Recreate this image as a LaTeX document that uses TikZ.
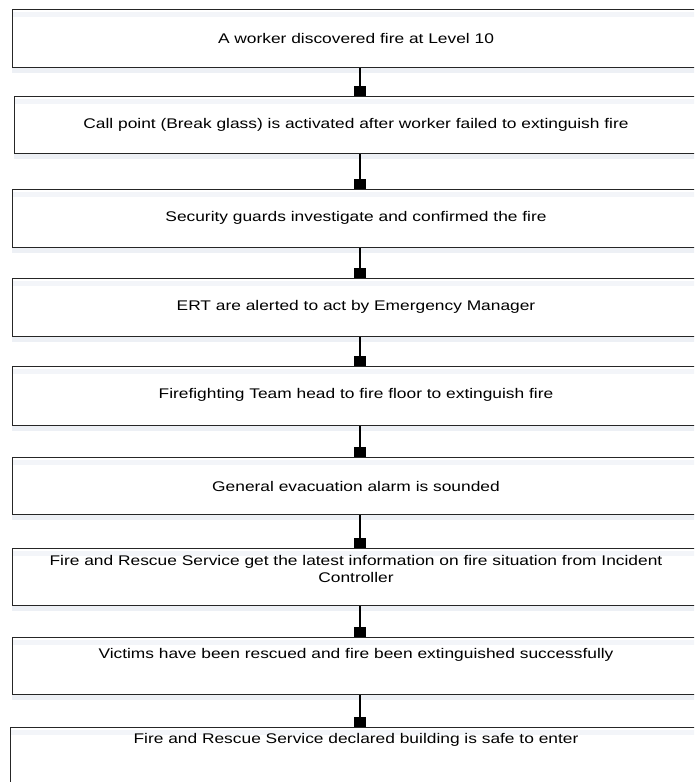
\documentclass[tikz,border=0pt]{standalone}
\usepackage{fontspec}
\setmainfont{Liberation Sans}[FakeStretch=1.24]
\usetikzlibrary{arrows.meta}
\definecolor{shadowc}{HTML}{EDF0F5}
\definecolor{innerc}{HTML}{F3F5F9}
\definecolor{edgec}{HTML}{262626}
\begin{document}
\begin{tikzpicture}[x=1pt,y=-1pt,
  box/.style={draw=edgec, line width=1.2pt, rectangle, minimum width=690pt, inner sep=0pt, anchor=north west},
  txt/.style={inner sep=0pt, align=center, font=\fontsize{14}{16.5}\selectfont},
  conn/.style={draw=black, line width=1.5pt, -{Square[length=10pt,width=12pt]}},
  shd/.style={fill=shadowc, draw=none},
  inr/.style={fill=innerc, draw=none}]
\useasboundingbox (0,0) rectangle (694,782);
\clip (0,0) rectangle (694,782);
\fill[white] (0,0) rectangle (694,782);
% shadows
\foreach \t/\b/\l in {9/67/12, 96/153/14, 189/247/12, 278/336/12, 366/425/12, 457/514/12, 548/605/12, 637/694/12}{
  \path[shd] (\l,\b) rectangle (700,\b+6);
  \path[inr] (\l,\t+3) rectangle (700,\t+8);
}
\path[inr] (10,730) rectangle (700,735);
% boxes
\node[box, minimum height=58pt] (b1) at (12,9) {};
\node[box, minimum height=57pt] (b2) at (14,96) {};
\node[box, minimum height=58pt] (b3) at (12,189) {};
\node[box, minimum height=58pt] (b4) at (12,278) {};
\node[box, minimum height=59pt] (b5) at (12,366) {};
\node[box, minimum height=57pt] (b6) at (12,457) {};
\node[box, minimum height=57pt] (b7) at (12,548) {};
\node[box, minimum height=57pt] (b8) at (12,637) {};
\node[box, minimum height=80pt] (b9) at (10,727) {};
% texts
\node[txt] (t1) at (356,38) {A worker discovered fire at Level 10};
\node[txt] (t2) at (356,125) {Call point (Break glass) is activated after worker failed to extinguish fire};
\node[txt] (t3) at (356,218) {Security guards investigate and confirmed the fire};
\node[txt] (t4) at (356,307) {ERT are alerted to act by Emergency Manager};
\node[txt] (t5) at (356,395) {Firefighting Team head to fire floor to extinguish fire};
\node[txt] (t6) at (356,486) {General evacuation alarm is sounded};
\node[txt] (t7) at (356,569) {Fire and Rescue Service get the latest information on fire situation from Incident\\Controller};
\node[txt] (t8) at (356,655) {Victims have been rescued and fire been extinguished successfully};
\node[txt] (t9) at (356,740) {Fire and Rescue Service declared building is safe to enter};
% connectors
\coordinate (cx) at (360,0);
\draw[conn] (b1.south -| cx) -- (b2.north -| cx);
\draw[conn] (b2.south -| cx) -- (b3.north -| cx);
\draw[conn] (b3.south -| cx) -- (b4.north -| cx);
\draw[conn] (b4.south -| cx) -- (b5.north -| cx);
\draw[conn] (b5.south -| cx) -- (b6.north -| cx);
\draw[conn] (b6.south -| cx) -- (b7.north -| cx);
\draw[conn] (b7.south -| cx) -- (b8.north -| cx);
\draw[conn] (b8.south -| cx) -- (b9.north -| cx);
\end{tikzpicture}
\end{document}
